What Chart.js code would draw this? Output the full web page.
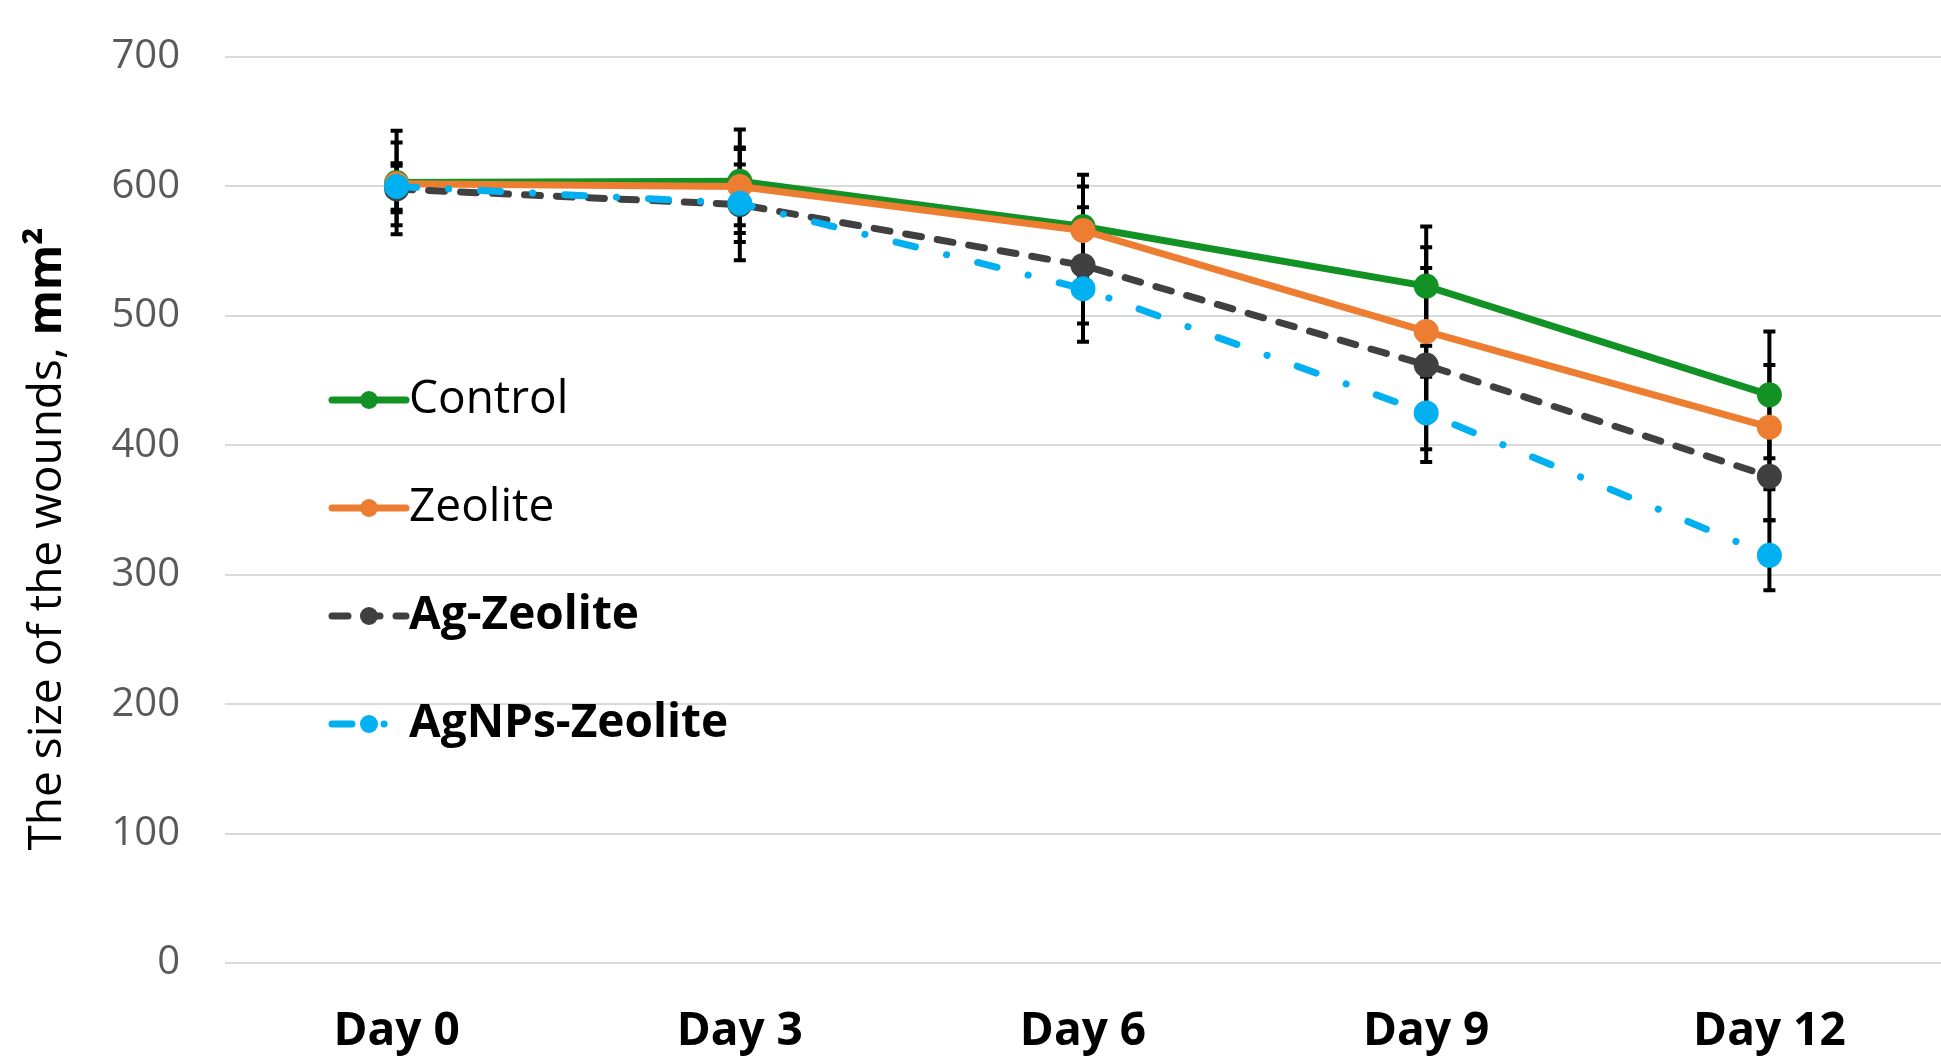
<!DOCTYPE html>
<html>
<head>
<meta charset="utf-8">
<script src="https://cdn.jsdelivr.net/npm/chart.js@4"></script>
<style>
  html, body { margin: 0; padding: 0; background: #fff; }
  canvas { display: block; }
</style>
</head>
<body>
<canvas id="woundChart" width="1941" height="1057"></canvas>
<script>
const days = ['Day 0', 'Day 3', 'Day 6', 'Day 9', 'Day 12'];
const yTicks = [0, 100, 200, 300, 400, 500, 600, 700];

const control = [603, 604, 569, 523, 439];
const zeolite = [602, 600, 566, 488, 414];
const agZeolite = [598, 586, 539, 462, 376];
const agnpsZeolite = [600, 587, 521, 425, 315];

const controlErr = [40, 40, 40, 46, 49];
const zeoliteErr = [32, 30, 34, 65, 48];
const agZeoliteErr = [18, 43, 45, 75, 34];
const agnpsZeoliteErr = [18, 30, 41, 28, 27];

const FONT = '"Open Sans", "Noto Sans", sans-serif';

function makeSeries(label, data, errors, color, dash, bold, order) {
  return {
    label, data, errors, bold, order,
    borderColor: color,
    backgroundColor: color,
    pointBackgroundColor: color,
    pointBorderColor: color,
    borderWidth: 7,
    borderDash: dash,
    borderCapStyle: 'round',
    pointRadius: 9,
    pointHoverRadius: 9,
    tension: 0
  };
}

const datasets = [
  makeSeries('Control', control, controlErr, '#129124', [], false, 4),
  makeSeries('Zeolite', zeolite, zeoliteErr, '#ED7D31', [], false, 3),
  makeSeries('Ag-Zeolite', agZeolite, agZeoliteErr, '#404040', [16, 16], true, 2),
  makeSeries('AgNPs-Zeolite', agnpsZeolite, agnpsZeoliteErr, '#00B0F0', [20, 32, 0.1, 32], true, 1)
];

// error bars go under the lines and markers
const errorBars = {
  id: 'errorBars',
  beforeDatasetsDraw(chart) {
    const ctx = chart.ctx;
    const y = chart.scales.y;
    ctx.save();
    ctx.strokeStyle = '#000';
    ctx.lineWidth = 4;
    chart.data.datasets.forEach((ds, i) => {
      const meta = chart.getDatasetMeta(i);
      meta.data.forEach((pt, j) => {
        const hi = y.getPixelForValue(ds.data[j] + ds.errors[j]);
        const lo = y.getPixelForValue(ds.data[j] - ds.errors[j]);
        ctx.beginPath();
        ctx.moveTo(pt.x, hi); ctx.lineTo(pt.x, lo);
        ctx.moveTo(pt.x - 6, hi); ctx.lineTo(pt.x + 6, hi);
        ctx.moveTo(pt.x - 6, lo); ctx.lineTo(pt.x + 6, lo);
        ctx.stroke();
      });
    });
    ctx.restore();
  }
};

// legend sits inside the plot, left side
const insideLegend = {
  id: 'insideLegend',
  afterDatasetsDraw(chart) {
    const ctx = chart.ctx;
    const x0 = 332, x1 = 406, rowTop = 400, rowGap = 108;
    ctx.save();
    chart.data.datasets.forEach((ds, i) => {
      const yy = rowTop + i * rowGap;
      ctx.strokeStyle = ds.borderColor;
      ctx.lineWidth = 7;
      ctx.lineCap = 'round';
      ctx.setLineDash(ds.borderDash);
      ctx.beginPath();
      ctx.moveTo(x0, yy); ctx.lineTo(x1, yy);
      ctx.stroke();
      ctx.setLineDash([]);
      ctx.fillStyle = ds.borderColor;
      ctx.beginPath();
      ctx.arc((x0 + x1) / 2, yy, 9, 0, Math.PI * 2);
      ctx.fill();
      ctx.fillStyle = '#000';
      ctx.font = (ds.bold ? 'bold ' : '') + '46px ' + FONT;
      ctx.textBaseline = 'middle';
      ctx.textAlign = 'left';
      ctx.fillText(ds.label, x1 + 3, yy);
    });
    ctx.restore();
  }
};

// y title with bold unit part
const yTitle = {
  id: 'yTitle',
  afterDraw(chart) {
    const ctx = chart.ctx;
    const plain = 'The size of the wounds, ';
    const unit = 'mm²';
    ctx.save();
    ctx.translate(48, 539);
    ctx.rotate(-Math.PI / 2);
    ctx.textBaseline = 'middle';
    ctx.font = '46px ' + FONT;
    const w1 = ctx.measureText(plain).width;
    ctx.font = 'bold 46px ' + FONT;
    const w2 = ctx.measureText(unit).width;
    const start = -(w1 + w2) / 2;
    ctx.fillStyle = '#000';
    ctx.textAlign = 'left';
    ctx.font = '46px ' + FONT;
    ctx.fillText(plain, start, 0);
    ctx.font = 'bold 46px ' + FONT;
    ctx.fillText(unit, start + w1, 0);
    ctx.restore();
  }
};

function renderChart() {
  const ctx = document.getElementById('woundChart');
  new Chart(ctx, {
    type: 'line',
    data: { labels: days, datasets },
    options: {
      responsive: false,
      animation: false,
      layout: { autoPadding: false, padding: { top: 57, right: 0, bottom: 0, left: 0 } },
      plugins: {
        legend: { display: false },
        tooltip: { enabled: false }
      },
      scales: {
        x: {
          offset: true,
          grid: { display: false },
          border: { display: false },
          ticks: {
            color: '#000',
            font: { family: FONT, size: 46, weight: 'bold' },
            padding: 33
          },
          afterFit(scale) {
            scale.height = 94;
            scale.paddingLeft = 0;
            scale.paddingRight = 0;
          }
        },
        y: {
          min: 0,
          max: 700,
          afterBuildTicks(scale) { scale.ticks = yTicks.map(v => ({ value: v })); },
          grid: { color: '#d9d9d9', lineWidth: 2, drawTicks: false },
          border: { display: false },
          ticks: {
            color: '#595959',
            font: { family: FONT, size: 40 },
            padding: 45
          },
          afterFit(scale) {
            scale.width = 225;
            scale.paddingTop = 0;
            scale.paddingBottom = 0;
          }
        }
      }
    },
    plugins: [errorBars, insideLegend, yTitle]
  });
}

renderChart();
</script>
</body>
</html>
